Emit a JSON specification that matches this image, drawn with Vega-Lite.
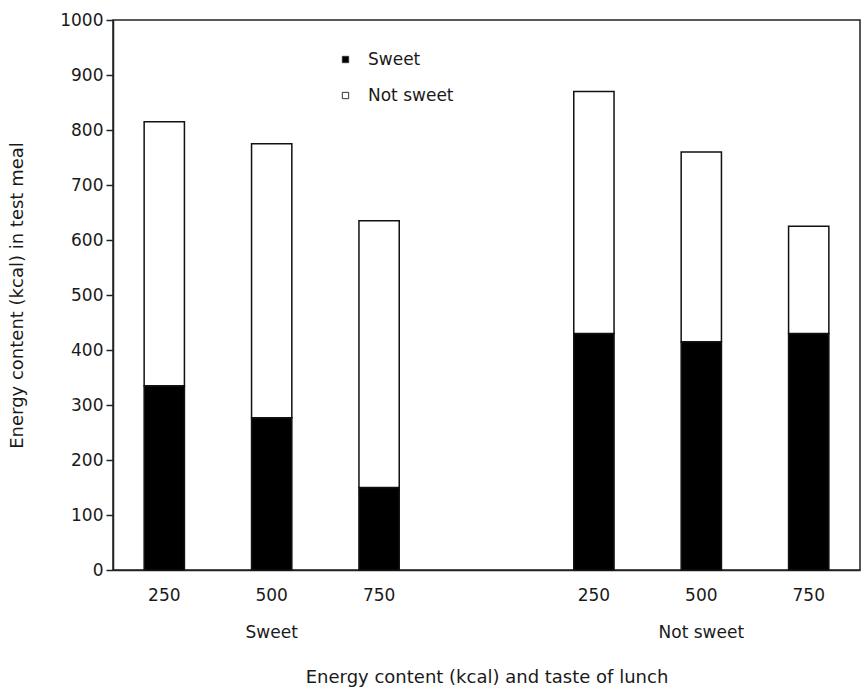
{
  "$schema": "https://vega.github.io/schema/vega-lite/v6.json",
  "width": 747,
  "height": 550,
  "autosize": "none",
  "padding": {"left": 113, "top": 20, "right": 1, "bottom": 117},
  "background": "white",
  "config": {
    "font": "DejaVu Sans",
    "view": {"stroke": "#222", "strokeWidth": 1.5},
    "axis": {
      "grid": false,
      "domainColor": "#222",
      "domainWidth": 1.5,
      "tickColor": "#222",
      "tickWidth": 1.5,
      "labelFont": "DejaVu Sans",
      "labelFontSize": 17,
      "labelColor": "#1a1a1a",
      "titleFont": "DejaVu Sans",
      "titleFontSize": 18,
      "titleFontWeight": "normal",
      "titleColor": "#1a1a1a"
    }
  },
  "data": {
    "values": [
      {"lunch": "Sweet 250", "test_meal": "Sweet", "kcal": 335},
      {"lunch": "Sweet 250", "test_meal": "Not sweet", "kcal": 480},
      {"lunch": "Sweet 500", "test_meal": "Sweet", "kcal": 277},
      {"lunch": "Sweet 500", "test_meal": "Not sweet", "kcal": 498},
      {"lunch": "Sweet 750", "test_meal": "Sweet", "kcal": 150},
      {"lunch": "Sweet 750", "test_meal": "Not sweet", "kcal": 485},
      {"lunch": "Not sweet 250", "test_meal": "Sweet", "kcal": 430},
      {"lunch": "Not sweet 250", "test_meal": "Not sweet", "kcal": 440},
      {"lunch": "Not sweet 500", "test_meal": "Sweet", "kcal": 415},
      {"lunch": "Not sweet 500", "test_meal": "Not sweet", "kcal": 345},
      {"lunch": "Not sweet 750", "test_meal": "Sweet", "kcal": 430},
      {"lunch": "Not sweet 750", "test_meal": "Not sweet", "kcal": 195}
    ]
  },
  "mark": {"type": "bar", "stroke": "#111", "strokeWidth": 1.5},
  "encoding": {
    "x": {
      "field": "lunch",
      "type": "nominal",
      "sort": null,
      "scale": {
        "domain": ["Sweet 250", "Sweet 500", "Sweet 750", " ", "Not sweet 250", "Not sweet 500", "Not sweet 750"],
        "paddingInner": 0.625,
        "paddingOuter": 0.29
      },
      "axis": {
        "title": "Energy content (kcal) and taste of lunch",
        "titlePadding": 28,
        "ticks": false,
        "tickSize": 0,
        "labelAngle": 0,
        "labelPadding": 17,
        "labelBaseline": "top",
        "labelLineHeight": 37,
        "labelExpr": "datum.value == 'Sweet 500' ? ['500', 'Sweet'] : datum.value == 'Not sweet 500' ? ['500', 'Not sweet'] : replace(replace(datum.value, 'Not sweet ', ''), 'Sweet ', '')"
      }
    },
    "y": {
      "field": "kcal",
      "type": "quantitative",
      "stack": "zero",
      "scale": {"domain": [0, 1000], "nice": false},
      "axis": {
        "title": "Energy content (kcal) in test meal",
        "values": [0, 100, 200, 300, 400, 500, 600, 700, 800, 900, 1000],
        "format": "d",
        "tickSize": 7,
        "labelPadding": 3,
        "titlePadding": 33
      }
    },
    "color": {
      "field": "test_meal",
      "type": "nominal",
      "scale": {"domain": ["Sweet", "Not sweet"], "range": ["#000000", "#ffffff"]},
      "legend": {
        "orient": "none",
        "legendX": 224,
        "legendY": 31,
        "title": null,
        "padding": 0,
        "symbolType": "square",
        "symbolSize": 40,
        "symbolStrokeColor": "#333",
        "symbolStrokeWidth": 1,
        "labelFont": "DejaVu Sans",
        "labelFontSize": 17,
        "labelColor": "#1a1a1a",
        "labelOffset": 14,
        "rowPadding": 18
      }
    },
    "order": {"field": "test_meal", "sort": "descending"}
  }
}
